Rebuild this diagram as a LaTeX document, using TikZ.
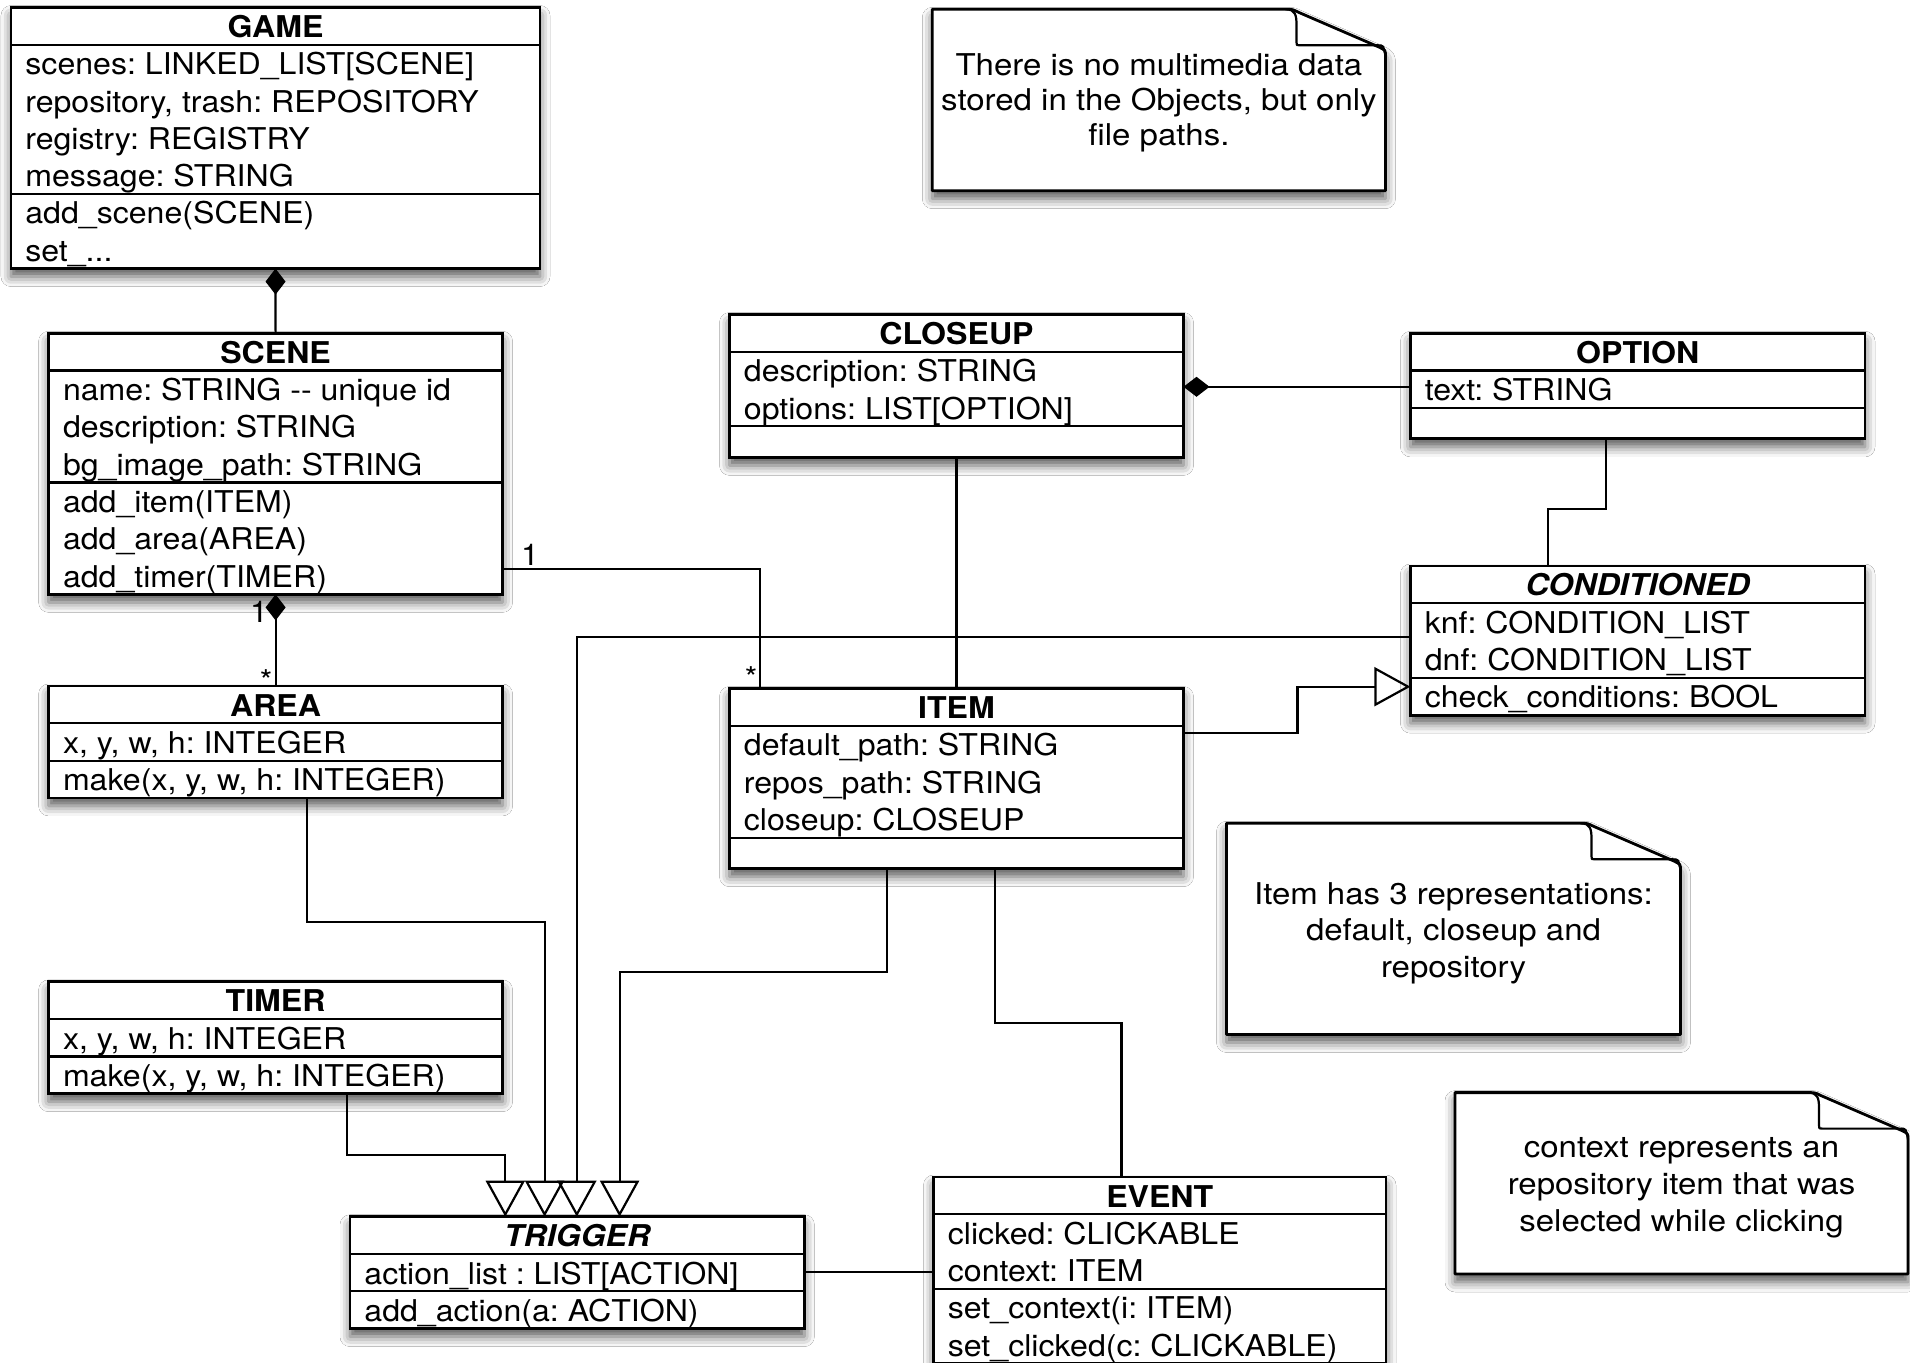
\documentclass[tikz,border=0pt]{standalone}
\usepackage{fontspec}
\setmainfont{TeX Gyre Heros}
\newfontfamily\clsfam{TeX Gyre Heros}[FakeStretch=1.07]
\newfontfamily\notefam{TeX Gyre Heros}[FakeStretch=1.1]
\usetikzlibrary{arrows.meta,calc,shadows.blur}
\frenchspacing

\newcommand\threedots{...}

\tikzset{
  boxshadow/.style={blur shadow={shadow xshift=0pt, shadow yshift=-4pt,
      shadow blur radius=5pt, shadow opacity=65}},
  classbox/.style={draw, line width=1.4pt, fill=white, inner sep=0pt,
      outer sep=0pt, boxshadow},
  rowline/.style={line width=1.1pt},
  titletext/.style={anchor=base, inner sep=0pt,
      font=\clsfam\bfseries\fontsize{15pt}{18pt}\selectfont},
  rowtext/.style={anchor=base west, inner sep=0pt,
      font=\clsfam\fontsize{15pt}{18pt}\selectfont},
  lbl/.style={inner sep=0pt, font=\clsfam\fontsize{15pt}{18pt}\selectfont},
  notebox/.style={draw, line width=1.4pt, fill=white, line join=round, boxshadow},
  notefold/.style={line width=1.1pt, line join=round},
  notetext/.style={anchor=base, inner sep=0pt,
      font=\notefam\fontsize{15pt}{18pt}\selectfont},
  assoc/.style={line width=1.1pt},
  comp/.style={line width=1.1pt,
      -{Diamond[length=13pt, width=10pt, fill=black, line width=0.6pt]}},
  gen/.style={line width=1.1pt, -{Triangle[open, length=18pt, width=19.5pt]}},
}

% class box: name, left, top, width, title, #attributes, attributes, #operations, operations
\newcommand\umlclass[9]{%
  \pgfmathsetmacro\clsA{#6==0 ? 31 : 37.3*#6}%
  \pgfmathsetmacro\clsM{#8==0 ? 31 : 37.3*#8}%
  \pgfmathsetmacro\clsH{37.3+\clsA+\clsM}%
  \node[classbox, anchor=north west, minimum width=#4*0.5pt,
        minimum height=\clsH*0.5pt] (#1) at (#2,#3) {};
  \draw[rowline] ($(#1.north west)+(0,37.3)$) -- ($(#1.north east)+(0,37.3)$);
  \draw[rowline] ($(#1.north west)+(0,37.3+\clsA)$) -- ($(#1.north east)+(0,37.3+\clsA)$);
  \node[titletext] (#1-title) at ($(#1.north)+(0,30)$) {#5};
  \ifnum#6>0
    \foreach \txt [count=\i] in {#7}{%
      \node[rowtext] (#1-attr\i) at ($(#1.north west)+(14,37.3*\i+30)$) {\txt};}%
  \fi
  \ifnum#8>0
    \foreach \txt [count=\i] in {#9}{%
      \node[rowtext] (#1-op\i) at ($(#1.north west)+(14,37.3+\clsA+37.3*\i-7.3)$) {\txt};}%
  \fi
}

% note with a folded corner: name, left, top, right, bottom, first baseline, line step, lines
\newcommand\umlnote[8]{%
  \draw[notebox] (#2,#3) -- (#4-100,#3) .. controls (#4-93,#3) .. (#4-87,#3+3)
     -- (#4-6,#3+38) .. controls (#4,#3+41) .. (#4,#3+47) -- (#4,#5) -- (#2,#5) -- cycle;
  \draw[notefold] (#4-100,#3) .. controls (#4-90,#3) and (#4-89,#3+6) .. (#4-89,#3+16)
     -- (#4-89,#3+33) .. controls (#4-89,#3+36) .. (#4-86,#3+36)
     -- (#4-8,#3+36) .. controls (#4-2,#3+36) .. (#4,#3+47);
  \foreach \txt [count=\i] in {#8}{%
    \node[notetext] (#1-l\i) at ({(#2+#4)/2},{#6+#7*(\i-1)}) {\txt};}%
}

\begin{document}
\begin{tikzpicture}[x=0.5pt, y=-0.5pt]
\fill[white] (0,0) rectangle (1910,1363);
\useasboundingbox (0,0) rectangle (1910,1363);

% notes
\umlnote{note1}{932.3}{9.3}{1385.5}{190.7}{76}{35}%
  {{There is no multimedia data},{stored in the Objects, but only},{file paths.}}
\umlnote{note2}{1226.5}{823.3}{1680.5}{1034.5}{904}{36.7}%
  {{Item has 3 representations:},{default, closeup and},{repository}}
\umlnote{note3}{1455}{1092.6}{1908}{1274}{1157.3}{37}%
  {{context represents an},{repository item that was},{selected while clicking}}

% classes
\umlclass{game}{11}{7.5}{529}{GAME}{4}%
  {{scenes: LINKED\_LIST[SCENE]},{repository, trash: REPOSITORY},{registry: REGISTRY},{message: STRING}}%
  {2}{{add\_scene(SCENE)},{set\_\threedots}}
\umlclass{scene}{48.6}{333.3}{454}{SCENE}{3}%
  {{name: STRING -\kern0pt- unique id},{description: STRING},{bg\_image\_path: STRING}}%
  {3}{{add\_item(ITEM)},{add\_area(AREA)},{add\_timer(TIMER)}}
\umlclass{area}{48.6}{686}{454}{AREA}{1}{{x, y, w, h: INTEGER}}{1}{{make(x, y, w, h: INTEGER)}}
\umlclass{timer}{48.6}{981.8}{454}{TIMER}{1}{{x, y, w, h: INTEGER}}{1}{{make(x, y, w, h: INTEGER)}}
\umlclass{closeup}{729.5}{314.5}{454}{CLOSEUP}{2}%
  {{description: STRING},{options: LIST[OPTION]}}{0}{}
\umlclass{item}{729.5}{688.5}{454}{ITEM}{3}%
  {{default\_path: STRING},{repos\_path: STRING},{closeup: CLOSEUP}}{0}{}
\umlclass{option}{1410.4}{333.3}{454.6}{OPTION}{1}{{text: STRING}}{0}{}
\umlclass{conditioned}{1410.4}{566}{454.6}{\itshape CONDITIONED}{2}%
  {{knf: CONDITION\_LIST},{dnf: CONDITION\_LIST}}{1}{{check\_conditions: BOOL}}
\umlclass{trigger}{350}{1216.7}{454.4}{\itshape TRIGGER}{1}%
  {{action\_list : LIST[ACTION]}}{1}{{add\_action(a: ACTION)}}
\umlclass{event}{933.5}{1177}{452.5}{EVENT}{2}%
  {{clicked: CLICKABLE},{context: ITEM}}{2}{{set\_context(i: ITEM)},{set\_clicked(c: CLICKABLE)}}

% compositions
\draw[comp] (scene.north) -- (game.south);
\draw[comp] (area.north) -- (scene.south);
\coordinate (optjoin) at ($(option.north west)+(0,53.5)$);
\draw[comp] (optjoin) -- (optjoin -| closeup.east);

% associations
\draw[assoc] ($(scene.south east)+(0,-25.4)$) -| ($(item.north west)+(30.5,0)$);
\draw[assoc] (closeup.south) -- (item.north);
\draw[assoc] ($(option.south)+(-32,0)$) -- ++(0,70.4) -| ($(conditioned.north west)+(137.6,0)$);
\draw[assoc] ($(item.south west)+(265.2,0)$) -- ++(0,154.3) -| ($(event.north west)+(188,0)$);
\coordinate (trigjoin) at ($(trigger.north east)+(0,55)$);
\draw[assoc] (trigjoin) -- (trigjoin -| event.west);

% generalisations
\draw[gen] ($(item.north east)+(0,44.5)$) -- ++(114,0) |- ($(conditioned.north west)+(0,120.7)$);
\draw[gen] ($(conditioned.north west)+(0,70.7)$) -| ($(trigger.north west)+(226.8,0)$);
\draw[gen] ($(area.south west)+(258.4,0)$) -- ++(0,124) -| ($(trigger.north west)+(194.6,0)$);
\draw[gen] ($(timer.south west)+(298.3,0)$) -- ++(0,61.3) -| ($(trigger.north west)+(155.3,0)$);
\draw[gen] ($(item.south west)+(157.3,0)$) -- ++(0,103.3) -| ($(trigger.north west)+(269.6,0)$);

% multiplicities
\node[lbl, anchor=base] (m-scene-area-1) at (259,622) {1};
\node[lbl, anchor=north] (m-scene-area-n) at (266,669) {*};
\node[lbl, anchor=base] (m-scene-item-1) at (530,565) {1};
\node[lbl, anchor=north] (m-scene-item-n) at (751,666) {*};
\end{tikzpicture}
\end{document}
